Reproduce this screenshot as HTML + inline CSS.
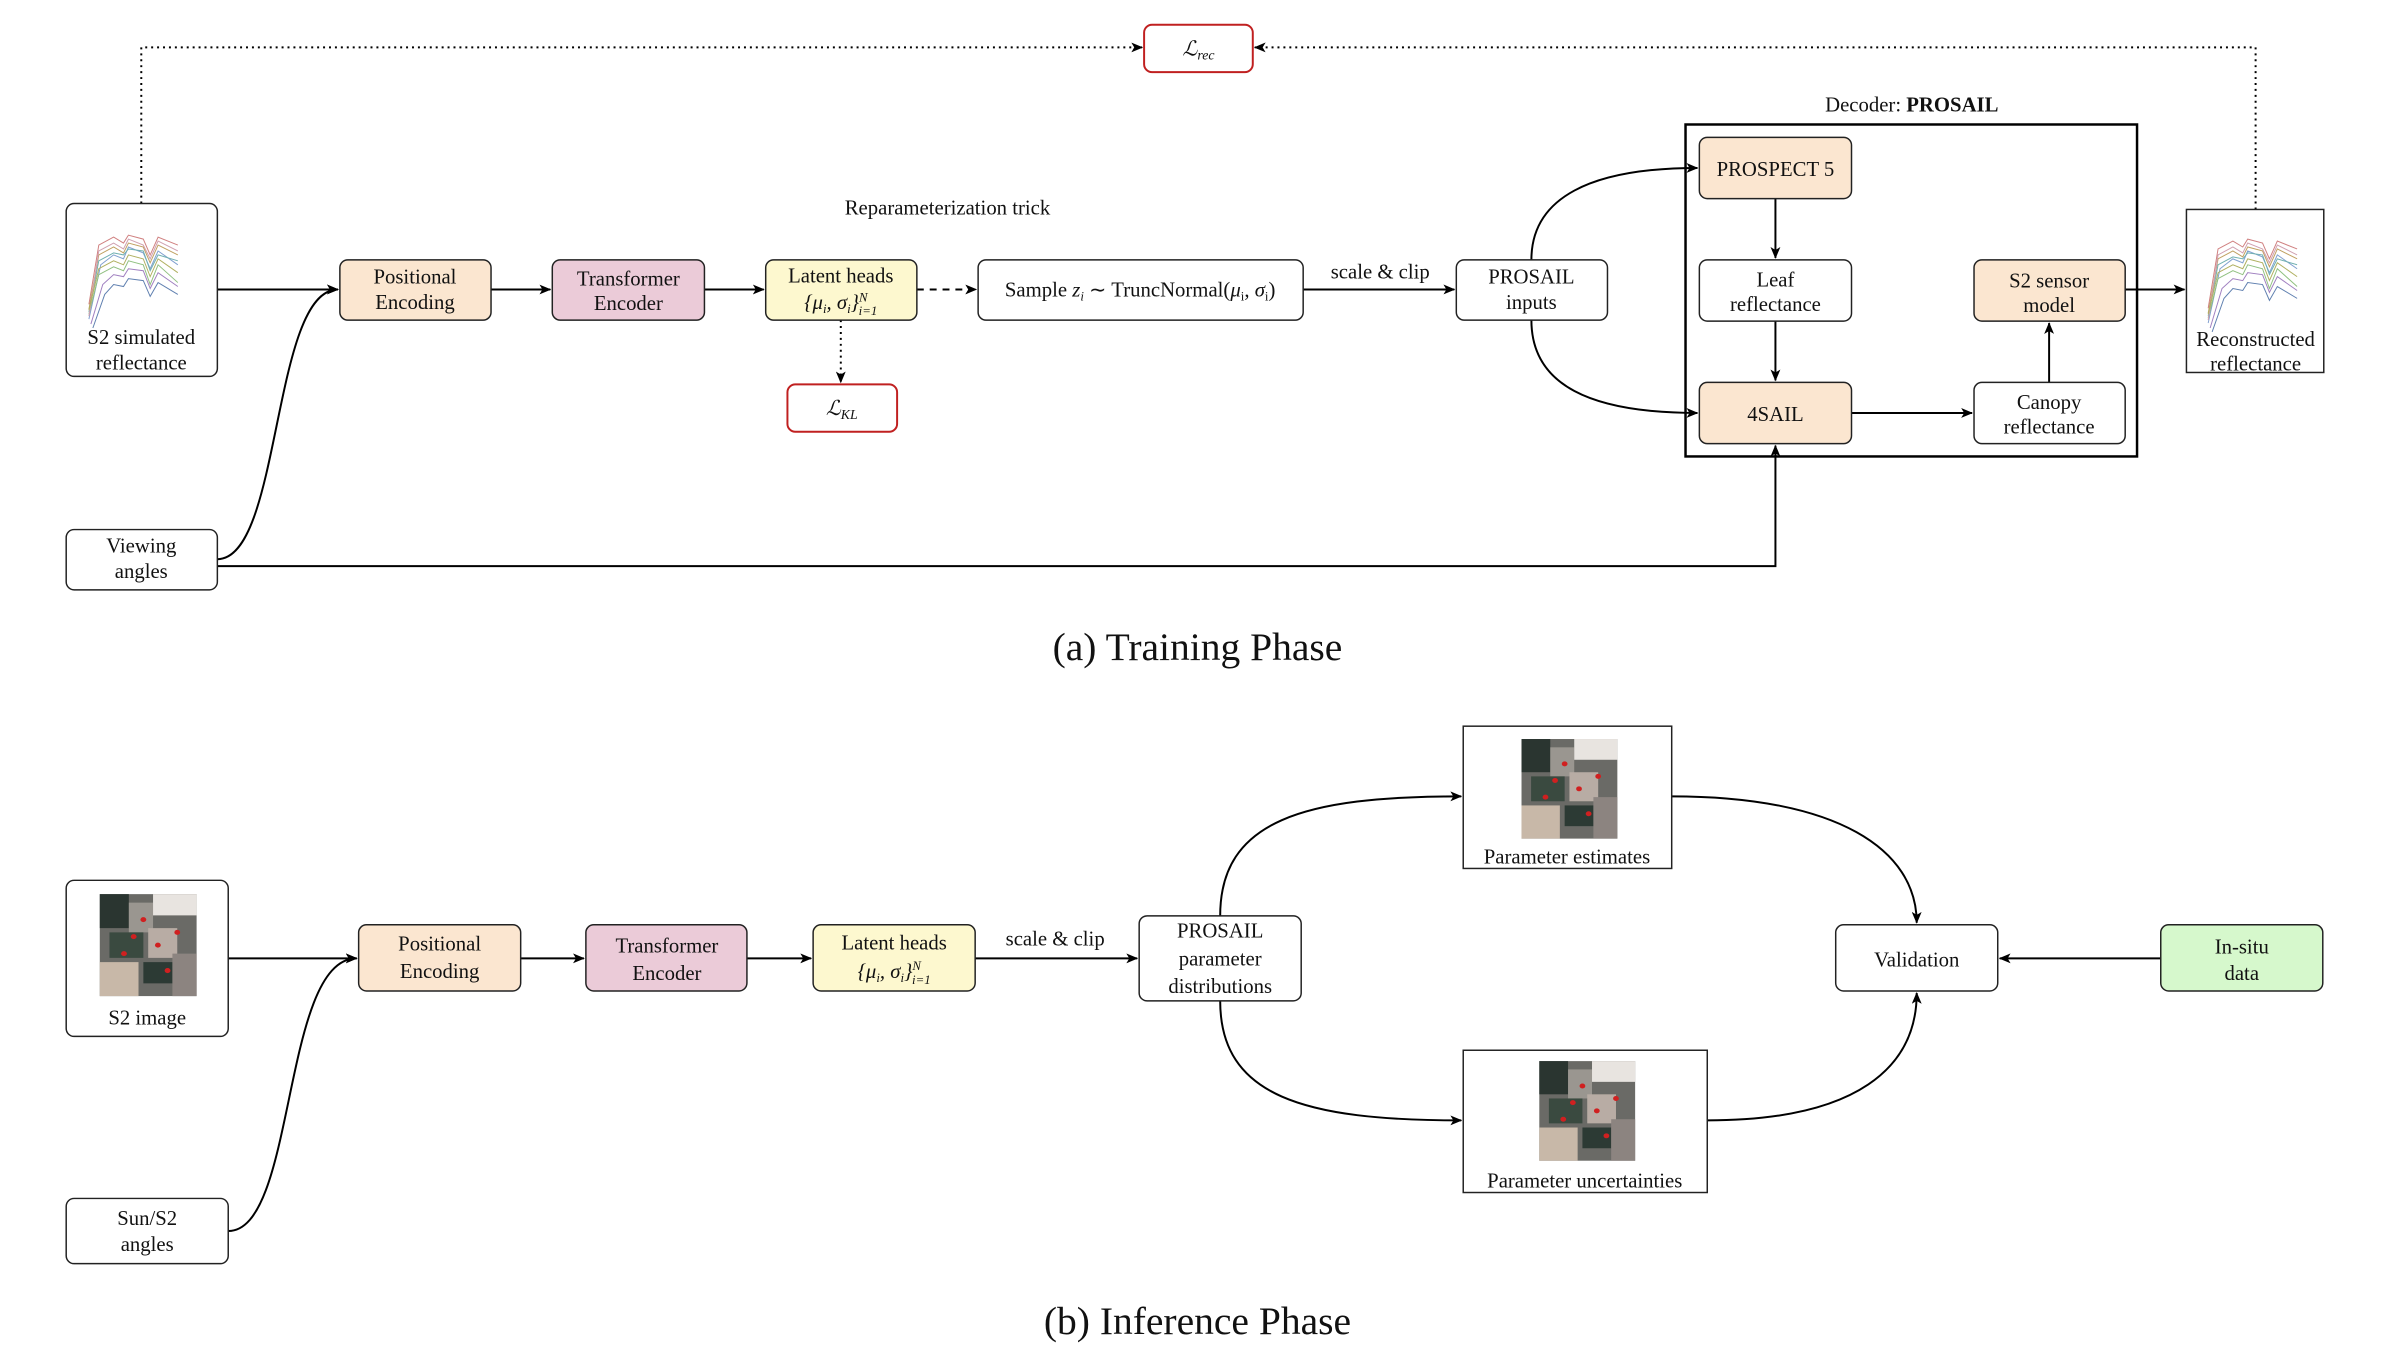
<!DOCTYPE html>
<html><head><meta charset="utf-8"><style>
html,body{margin:0;padding:0;background:#fff;}
svg{display:block;}
text{font-family:"Liberation Serif",serif;fill:#111;}
</style></head><body>
<svg width="2402" height="1368" viewBox="0 0 2402 1368" xmlns="http://www.w3.org/2000/svg">
<defs>
<marker id="ah" viewBox="0 0 12 10" refX="11" refY="5" markerWidth="12" markerHeight="10" markerUnits="userSpaceOnUse" orient="auto">
<path d="M0,0 L12,5 L0,10 L3,5 Z" fill="#000"/></marker>
<g id="spec">
<polyline fill="none" stroke="#d08080" stroke-width="1" points="0,80 10,20 25,12 35,18 40,10 55,14 62,30 70,12 90,20"/>
<polyline fill="none" stroke="#80a0d0" stroke-width="1" points="0,95 12,40 25,30 35,34 40,22 55,28 62,44 70,26 90,40"/>
<polyline fill="none" stroke="#90c080" stroke-width="1" points="0,90 10,50 25,42 35,46 40,36 55,40 62,60 70,40 90,58"/>
<polyline fill="none" stroke="#c0a060" stroke-width="1" points="0,85 10,30 25,22 35,28 40,18 55,22 62,38 70,20 90,30"/>
<polyline fill="none" stroke="#a080c0" stroke-width="1" points="2,100 14,60 25,50 35,52 40,44 55,46 62,64 70,48 90,62"/>
<polyline fill="none" stroke="#70b0b0" stroke-width="1" points="0,88 10,36 25,28 35,30 40,24 55,26 62,46 70,30 90,36"/>
<polyline fill="none" stroke="#d0a0b0" stroke-width="1" points="0,92 10,26 25,18 35,24 40,14 55,20 62,34 70,16 90,26"/>
<polyline fill="none" stroke="#b0b060" stroke-width="1" points="0,86 10,44 25,36 35,40 40,30 55,34 62,52 70,34 90,48"/>
<polyline fill="none" stroke="#6080b0" stroke-width="1" points="4,104 16,70 25,60 35,62 40,54 55,56 62,72 70,58 90,70"/>
</g>
<g id="img">
<rect x="0" y="0" width="100" height="120" fill="#6a6a66"/>
<rect x="0" y="0" width="30" height="40" fill="#2a3530"/>
<rect x="30" y="10" width="25" height="35" fill="#9a9690"/>
<rect x="55" y="0" width="45" height="25" fill="#e8e4e0"/>
<rect x="10" y="45" width="35" height="30" fill="#3a4a40"/>
<rect x="50" y="40" width="30" height="35" fill="#b8aca4"/>
<rect x="0" y="80" width="40" height="40" fill="#c8b8a8"/>
<rect x="45" y="80" width="30" height="25" fill="#2c3a34"/>
<rect x="75" y="70" width="25" height="50" fill="#8c8480"/>
<circle cx="35" cy="50" r="3" fill="#d02020"/><circle cx="60" cy="60" r="3" fill="#d02020"/>
<circle cx="45" cy="30" r="3" fill="#d02020"/><circle cx="70" cy="90" r="3" fill="#d02020"/>
<circle cx="25" cy="70" r="3" fill="#d02020"/><circle cx="80" cy="45" r="3" fill="#d02020"/>
</g>
</defs>
<g transform="scale(0.988)">
<g stroke="#000" stroke-width="2" fill="none">
<path d="M143,206 V48 H1156" stroke-dasharray="2,4" marker-end="url(#ah)"/>
<path d="M2283,212 V48 H1270" stroke-dasharray="2,4" marker-end="url(#ah)"/>
<path d="M220,293 H342" marker-end="url(#ah)"/>
<path d="M220,566 C285,566 275,293 342,293" marker-end="url(#ah)"/>
<path d="M497,293 H557" marker-end="url(#ah)"/>
<path d="M713,293 H773" marker-end="url(#ah)"/>
<path d="M928,293 H988" stroke-dasharray="7,6" marker-end="url(#ah)"/>
<path d="M851,324 V387" stroke-dasharray="2,4" marker-end="url(#ah)"/>
<path d="M1319,293 H1472" marker-end="url(#ah)"/>
<path d="M1550,263 C1550,200 1610,170 1718,170" marker-end="url(#ah)"/>
<path d="M1550,324 C1550,390 1610,418 1718,418" marker-end="url(#ah)"/>
<path d="M1797,201 V261" marker-end="url(#ah)"/>
<path d="M1797,325 V385" marker-end="url(#ah)"/>
<path d="M1874,418 H1996" marker-end="url(#ah)"/>
<path d="M2074,387 V327" marker-end="url(#ah)"/>
<path d="M2151,293 H2211" marker-end="url(#ah)"/>
<path d="M220,573 H1797 V451" marker-end="url(#ah)"/>
<path d="M231,970 H361" marker-end="url(#ah)"/>
<path d="M231,1246 C300,1246 285,970 361,970" marker-end="url(#ah)"/>
<path d="M527,970 H591" marker-end="url(#ah)"/>
<path d="M756,970 H821" marker-end="url(#ah)"/>
<path d="M987,970 H1151" marker-end="url(#ah)"/>
<path d="M1235,927 C1235,830 1320,806 1479,806" marker-end="url(#ah)"/>
<path d="M1235,1013 C1235,1110 1320,1134 1479,1134" marker-end="url(#ah)"/>
<path d="M1692,806 C1860,806 1940,860 1940,934" marker-end="url(#ah)"/>
<path d="M1728,1134 C1880,1134 1940,1080 1940,1005" marker-end="url(#ah)"/>
<path d="M2187,970 H2024" marker-end="url(#ah)"/>
</g>

<rect x="1706" y="126" width="457" height="336" fill="none" stroke="#000" stroke-width="2.5"/>

<g stroke="#222" stroke-width="1.5">
<rect x="1158" y="25" width="110" height="48" rx="8" fill="#fff" stroke="#c02020" stroke-width="2"/>
<rect x="797" y="389" width="111" height="48" rx="8" fill="#fff" stroke="#c02020" stroke-width="2"/>
<rect x="67" y="206" width="153" height="175" rx="8" fill="#fff"/>
<rect x="344" y="263" width="153" height="61" rx="8" fill="#fbe6d0"/>
<rect x="559" y="263" width="154" height="61" rx="8" fill="#ebcbd8"/>
<rect x="775" y="263" width="153" height="61" rx="8" fill="#fdf8cf"/>
<rect x="990" y="263" width="329" height="61" rx="8" fill="#fff"/>
<rect x="1474" y="263" width="153" height="61" rx="8" fill="#fff"/>
<rect x="1720" y="139" width="154" height="62" rx="8" fill="#fbe6d0"/>
<rect x="1720" y="263" width="154" height="62" rx="8" fill="#fff"/>
<rect x="1720" y="387" width="154" height="62" rx="8" fill="#fbe6d0"/>
<rect x="1998" y="263" width="153" height="62" rx="8" fill="#fbe6d0"/>
<rect x="1998" y="387" width="153" height="62" rx="8" fill="#fff"/>
<rect x="2213" y="212" width="139" height="165" fill="#fff"/>
<rect x="67" y="536" width="153" height="61" rx="8" fill="#fff"/>

<rect x="67" y="891" width="164" height="158" rx="8" fill="#fff"/>
<rect x="67" y="1213" width="164" height="66" rx="8" fill="#fff"/>
<rect x="363" y="936" width="164" height="67" rx="8" fill="#fbe6d0"/>
<rect x="593" y="936" width="163" height="67" rx="8" fill="#ebcbd8"/>
<rect x="823" y="936" width="164" height="67" rx="8" fill="#fdf8cf"/>
<rect x="1153" y="927" width="164" height="86" rx="8" fill="#fff"/>
<rect x="1481" y="735" width="211" height="144" fill="#fff"/>
<rect x="1481" y="1063" width="247" height="144" fill="#fff"/>
<rect x="1858" y="936" width="164" height="67" rx="8" fill="#fff"/>
<rect x="2187" y="936" width="164" height="67" rx="8" fill="#d6f8cc"/>
</g>

<use href="#spec" x="90" y="228"/>
<use href="#spec" x="2235" y="232"/>
<g transform="translate(101,905) scale(0.98,0.86)"><use href="#img"/></g>
<g transform="translate(1540,748) scale(0.97,0.84)"><use href="#img"/></g>
<g transform="translate(1558,1074) scale(0.97,0.84)"><use href="#img"/></g>

<g font-size="21" text-anchor="middle">
<text x="1213" y="56" font-style="italic">ℒ<tspan font-size="14" dy="4">rec</tspan></text>
<text x="852" y="420" font-style="italic">ℒ<tspan font-size="14" dy="4">KL</tspan></text>
<text x="143" y="348">S2 simulated</text><text x="143" y="374">reflectance</text>
<text x="420" y="287">Positional</text><text x="420" y="313">Encoding</text>
<text x="636" y="289">Transformer</text><text x="636" y="314">Encoder</text>
<text x="851" y="286">Latent heads</text>
<text x="851" y="313" font-style="italic">{μ<tspan font-size="13" dy="4">i</tspan><tspan dy="-4">, σ</tspan><tspan font-size="13" dy="4">i</tspan><tspan dy="-4">}</tspan><tspan font-size="13" dy="-8">N</tspan><tspan font-size="13" dx="-9" dy="14">i=1</tspan></text>
<text x="1154" y="300">Sample <tspan font-style="italic">z</tspan><tspan font-size="13" font-style="italic" dy="4">i</tspan><tspan dy="-4"> ∼ TruncNormal(</tspan><tspan font-style="italic">μ</tspan><tspan font-size="13" dy="4">i</tspan><tspan dy="-4">, </tspan><tspan font-style="italic">σ</tspan><tspan font-size="13" dy="4">i</tspan><tspan dy="-4">)</tspan></text>
<text x="959" y="217">Reparameterization trick</text>
<text x="1397" y="282">scale &amp; clip</text>
<text x="1550" y="287">PROSAIL</text><text x="1550" y="313">inputs</text>
<text x="1935" y="113">Decoder: <tspan font-weight="bold">PROSAIL</tspan></text>
<text x="1797" y="178">PROSPECT 5</text>
<text x="1797" y="290">Leaf</text><text x="1797" y="315">reflectance</text>
<text x="1797" y="426">4SAIL</text>
<text x="2074" y="291">S2 sensor</text><text x="2074" y="316">model</text>
<text x="2074" y="414">Canopy</text><text x="2074" y="439">reflectance</text>
<text x="2283" y="350">Reconstructed</text><text x="2283" y="375">reflectance</text>
<text x="143" y="559">Viewing</text><text x="143" y="585">angles</text>

<text x="149" y="1037">S2 image</text>
<text x="149" y="1240">Sun/S2</text><text x="149" y="1266">angles</text>
<text x="445" y="962">Positional</text><text x="445" y="990">Encoding</text>
<text x="675" y="964">Transformer</text><text x="675" y="992">Encoder</text>
<text x="905" y="961">Latent heads</text>
<text x="905" y="990" font-style="italic">{μ<tspan font-size="13" dy="4">i</tspan><tspan dy="-4">, σ</tspan><tspan font-size="13" dy="4">i</tspan><tspan dy="-4">}</tspan><tspan font-size="13" dy="-8">N</tspan><tspan font-size="13" dx="-9" dy="14">i=1</tspan></text>
<text x="1068" y="957">scale &amp; clip</text>
<text x="1235" y="949">PROSAIL</text><text x="1235" y="977">parameter</text><text x="1235" y="1005">distributions</text>
<text x="1586" y="874">Parameter estimates</text>
<text x="1604" y="1202">Parameter uncertainties</text>
<text x="1940" y="978">Validation</text>
<text x="2269" y="965">In-situ</text><text x="2269" y="992">data</text>
</g>
<text x="1212" y="668" font-size="40" text-anchor="middle">(a) Training Phase</text>
<text x="1212" y="1350" font-size="40" text-anchor="middle">(b) Inference Phase</text>
</g>
</svg>
</body></html>
